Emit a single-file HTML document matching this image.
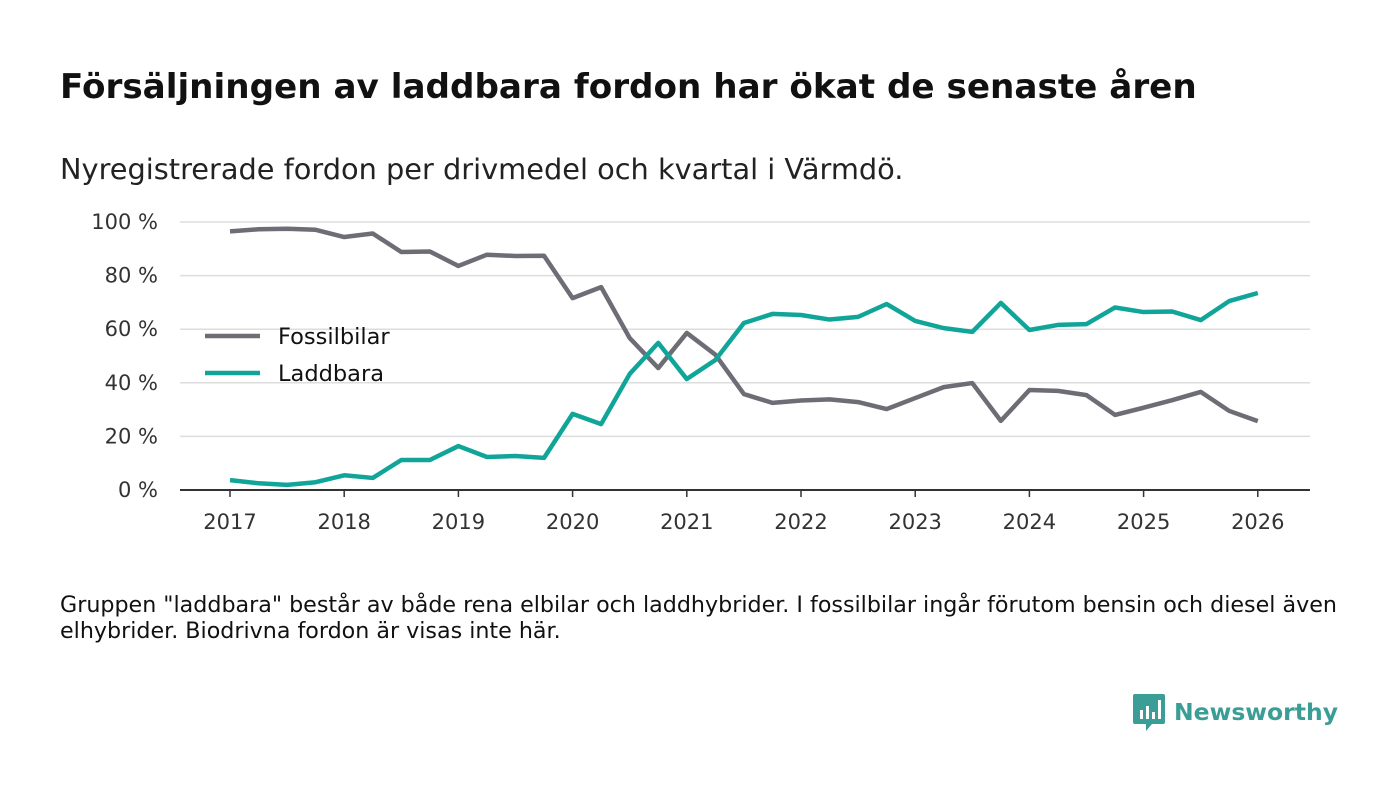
<!DOCTYPE html>
<html><head><meta charset="utf-8"><style>
body{margin:0;width:1400px;height:793px;background:#fff;font-family:"DejaVu Sans","Liberation Sans",sans-serif;overflow:hidden;position:relative;color:#111}
#title{position:absolute;left:60px;top:67px;font-size:34.2px;font-weight:bold;margin:0;color:#111}
#sub{position:absolute;left:60px;top:152px;font-size:28.8px;margin:0;color:#222}
#note{position:absolute;left:60px;top:592px;font-size:22.2px;line-height:26px;width:1330px;color:#111}
#logo{position:absolute;left:1132px;top:692px;display:flex;align-items:center;gap:8px;color:#3a9e96;font-size:23.5px;font-weight:bold}
svg{position:absolute;left:0;top:0}
</style></head><body>
<h1 id="title">Försäljningen av laddbara fordon har ökat de senaste åren</h1>
<p id="sub">Nyregistrerade fordon per drivmedel och kvartal i Värmdö.</p>
<svg id="chart" width="1400" height="793"></svg>
<div id="note">Gruppen "laddbara" består av både rena elbilar och laddhybrider. I fossilbilar ingår förutom bensin och diesel även<br>elhybrider. Biodrivna fordon är visas inte här.</div>
<div id="logo"><svg style="position:static" width="34" height="40" viewBox="0 0 34 40"><path d="M3 2h28a2 2 0 0 1 2 2v26a2 2 0 0 1-2 2H20l-6 7v-7H3a2 2 0 0 1-2-2V4a2 2 0 0 1 2-2z" fill="#3a9e96"/><rect x="8" y="18" width="3" height="9" fill="#fff"/><rect x="14" y="14" width="3" height="13" fill="#fff"/><rect x="20" y="20" width="3" height="7" fill="#fff"/><rect x="26" y="8" width="3" height="19" fill="#fff"/></svg><span>Newsworthy</span></div>
<script>
const years=[2017,2018,2019,2020,2021,2022,2023,2024,2025,2026];
const yTicks=[0,20,40,60,80,100];
const fossil=[96.5,97.3,97.5,97.1,94.4,95.7,88.8,89,83.6,87.8,87.3,87.4,71.6,75.7,56.7,45.5,58.6,50.5,35.8,32.5,33.4,33.8,32.8,30.2,34.3,38.4,39.9,25.8,37.3,37,35.4,28.0,30.7,33.5,36.6,29.5,25.7];
const laddbara=[3.7,2.5,1.9,2.9,5.5,4.5,11.2,11.2,16.4,12.3,12.7,12.0,28.4,24.6,43.3,54.9,41.4,48.5,62.3,65.7,65.3,63.6,64.6,69.4,63.1,60.4,59.0,69.8,59.7,61.6,61.9,68.1,66.4,66.6,63.4,70.5,73.5];
const X=t=>230+(t-2017)*114.2, Y=v=>490-v*2.68;
const s=document.getElementById('chart'),NS='http://www.w3.org/2000/svg';
function mk(tag,a){const e=document.createElementNS(NS,tag);for(const k in a)e.setAttribute(k,a[k]);s.appendChild(e);return e;}
yTicks.forEach(v=>{
 if(v>0){const g=mk('line',{x1:180,x2:1310,y1:Y(v),y2:Y(v),stroke:'#ddd','stroke-width':1.5});
 
 }
 const t=mk('text',{x:158,y:Y(v)+7,'text-anchor':'end','font-size':21,fill:'#333'});t.textContent=v+' %';
 
 
});
const ax=mk('line',{x1:180,x2:1310,y1:490,y2:490,stroke:'#333','stroke-width':2});


years.forEach(yr=>{
 mk('line',{x1:X(yr),x2:X(yr),y1:490,y2:497,stroke:'#333','stroke-width':1.5});
 const t=mk('text',{x:X(yr),y:529,'text-anchor':'middle','font-size':21,fill:'#333'});t.textContent=yr;
 
 
});
function line(d,c,n){const p=mk('polyline',{points:d.map((v,i)=>X(2017+i/4)+','+Y(v)).join(' '),fill:'none',stroke:c,'stroke-width':4.5,'stroke-linejoin':'round'});
 
 }
line(fossil,'#6e6d75','fossilbilar-line');
line(laddbara,'#11a59a','laddbara-line');
[['Fossilbilar','#6e6d75',336],['Laddbara','#11a59a',373]].forEach(([l,c,y])=>{
 const g=mk('line',{x1:205,x2:260,y1:y,y2:y,stroke:c,'stroke-width':4.5});
 
 
 const t=mk('text',{x:278,y:y+8,'font-size':22.5,fill:'#111'});t.textContent=l;
 
 
});
</script>
</body></html>
